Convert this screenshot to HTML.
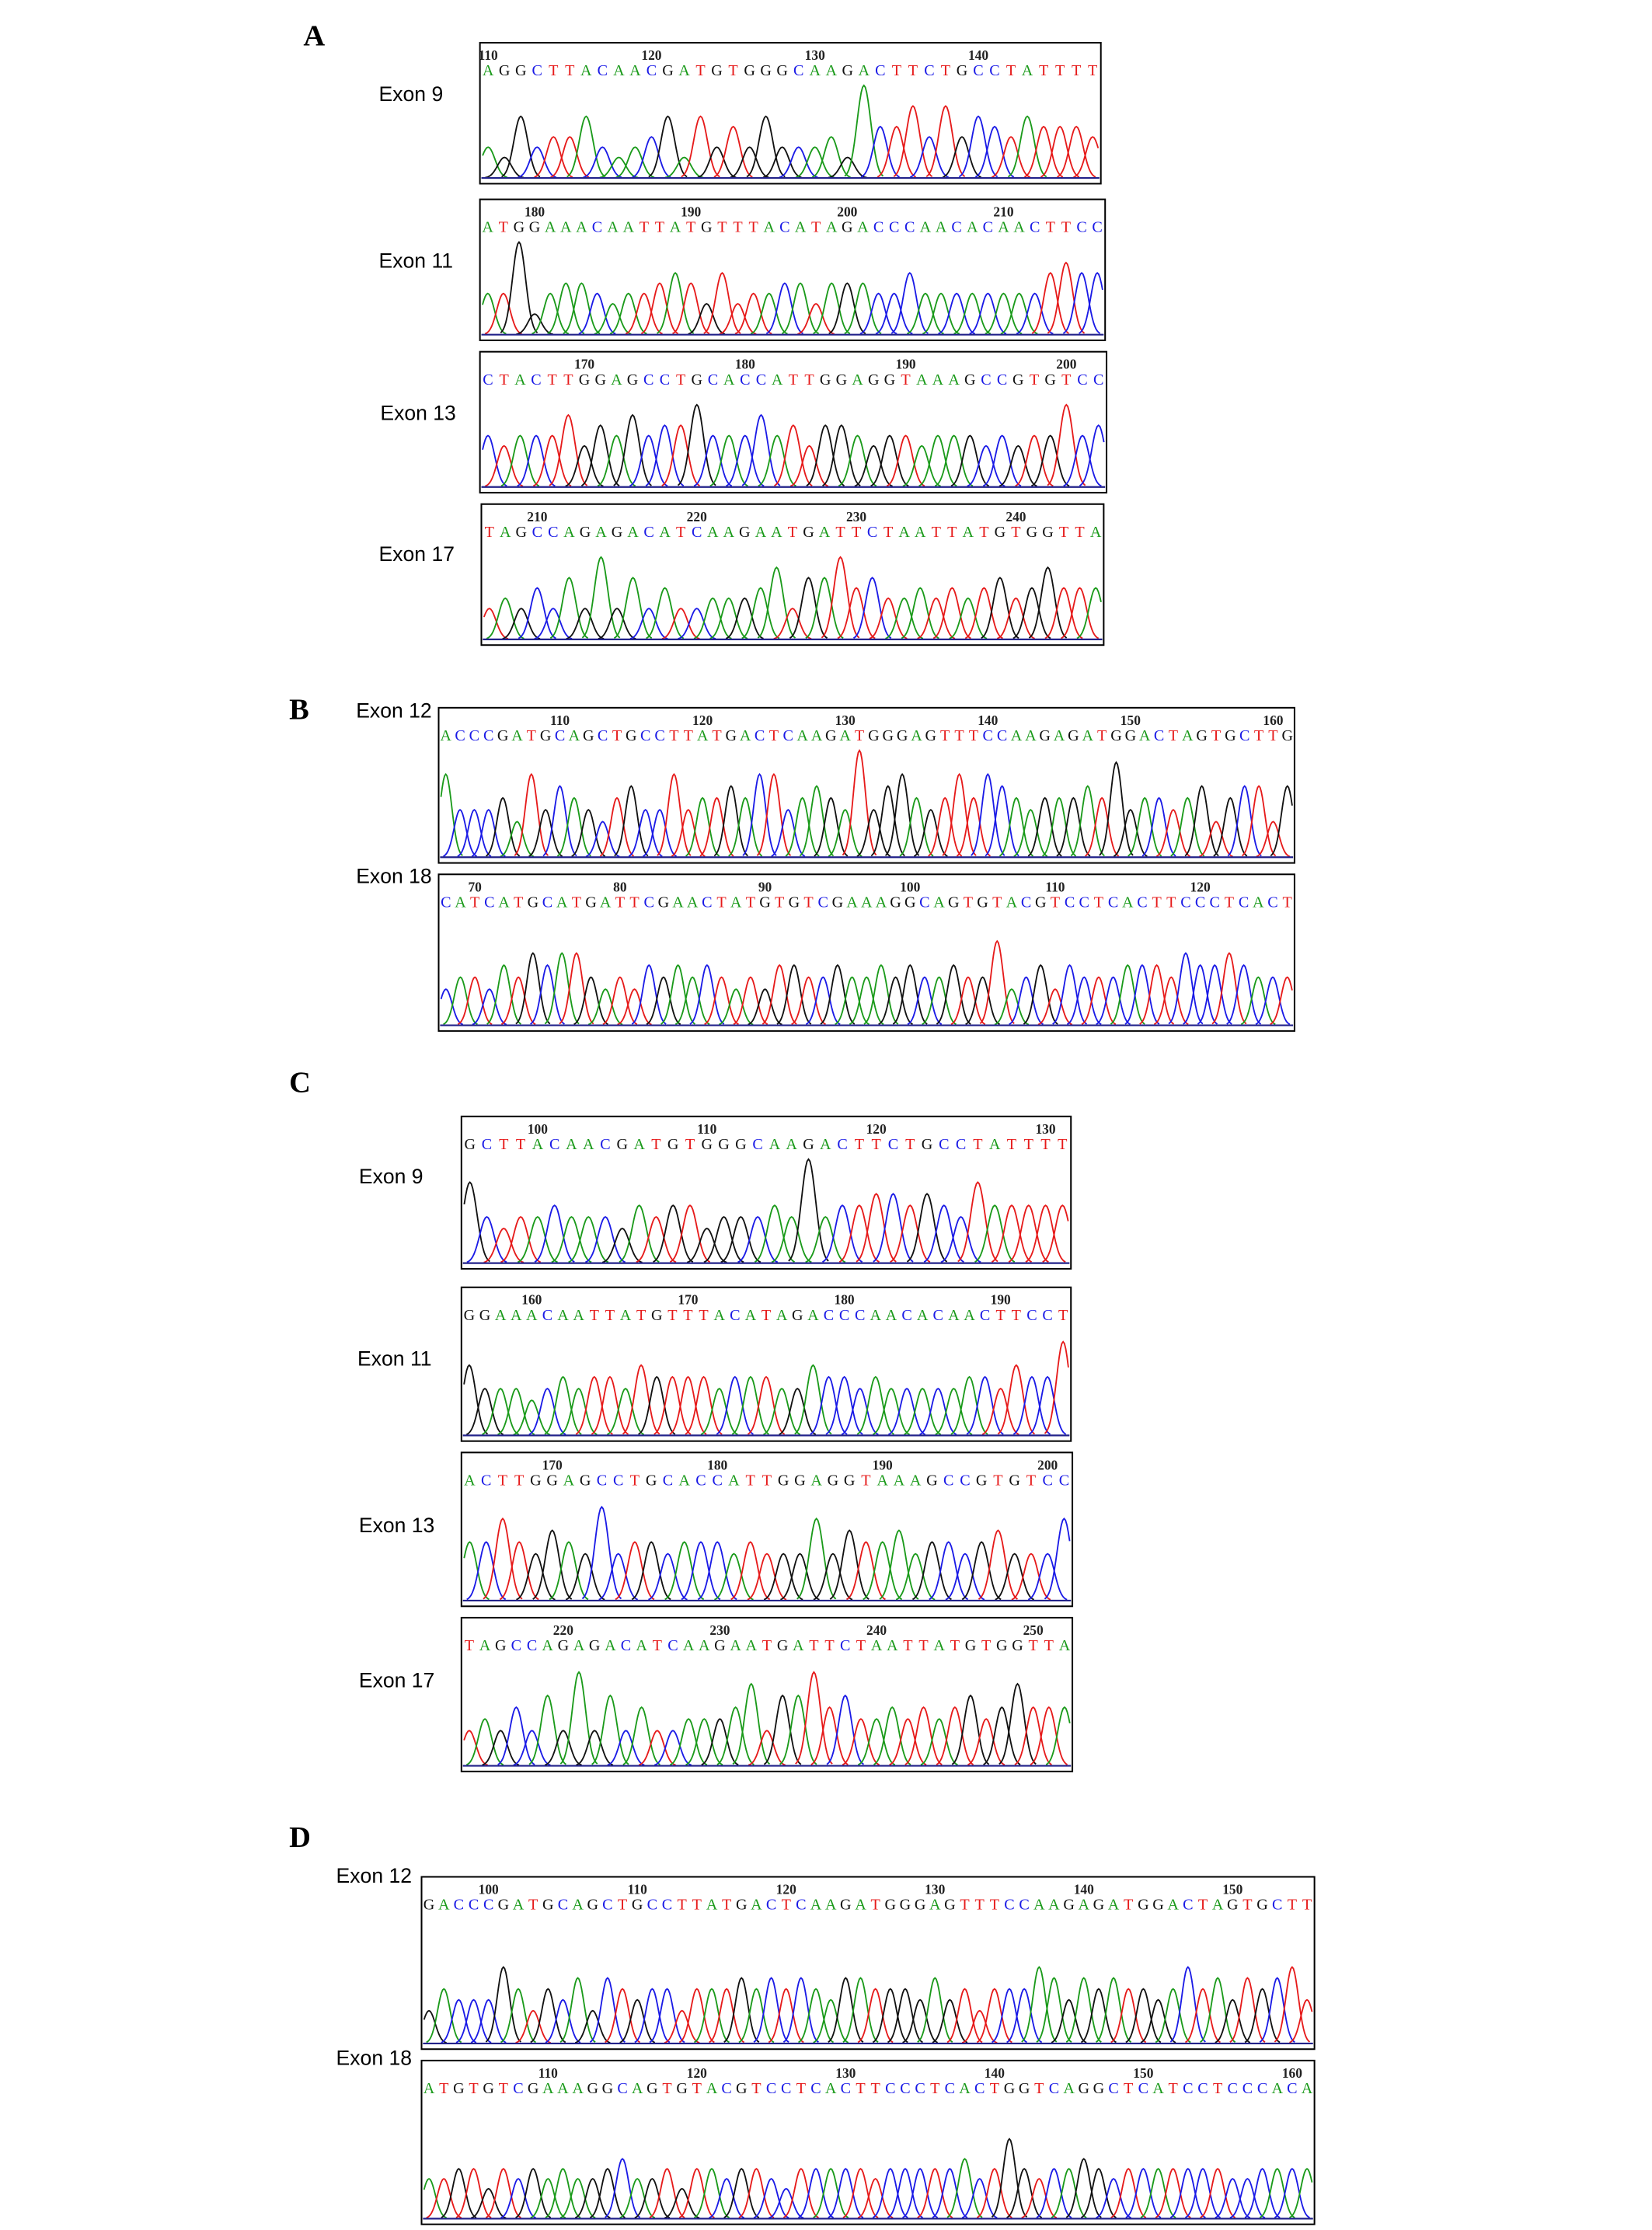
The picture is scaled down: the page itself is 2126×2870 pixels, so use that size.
<!DOCTYPE html>
<html><head><meta charset="utf-8">
<style>
html,body{margin:0;padding:0;background:#fff;}
svg{display:block;}
</style></head>
<body>
<svg id="fig" xmlns="http://www.w3.org/2000/svg" width="2126" height="2870" viewBox="0 0 1160 1566">
<rect x="0" y="0" width="1160" height="1566" fill="#fff"/>
</svg>
<script>
// ---- data ----
const exonNames = ["Exon 9","Exon 11","Exon 13","Exon 17","Exon 12","Exon 18","Exon 9","Exon 11","Exon 13","Exon 17","Exon 12","Exon 18"];
const sequences = [
"AGGCTTACAACGATGTGGGCAAGACTTCTGCCTATTTT",
"ATGGAAACAATTATGTTTACATAGACCCAACACAACTTCC",
"CTACTTGGAGCCTGCACCATTGGAGGTAAAGCCGTGTCC",
"TAGCCAGAGACATCAAGAATGATTCTAATTATGTGGTTA",
"ACCCGATGCAGCTGCCTTATGACTCAAGATGGGAGTTTCCAAGAGATGGACTAGTGCTTG",
"CATCATGCATGATTCGAACTATGTGTCGAAAGGCAGTGTACGTCCTCACTTCCCTCACT",
"GCTTACAACGATGTGGGCAAGACTTCTGCCTATTTT",
"GGAAACAATTATGTTTACATAGACCCAACACAACTTCCT",
"ACTTGGAGCCTGCACCATTGGAGGTAAAGCCGTGTCC",
"TAGCCAGAGACATCAAGAATGATTCTAATTATGTGGTTA",
"GACCCGATGCAGCTGCCTTATGACTCAAGATGGGAGTTTCCAAGAGATGGACTAGTGCTT",
"ATGTGTCGAAAGGCAGTGTACGTCCTCACTTCCCTCACTGGTCAGGCTCATCCTCCCACA"
];
const startNumbers = [110,177,164,207,102,68,96,156,165,214,96,102];
const peakHeights = [
"32634463234626353633342955747465465554",
"4492455434456536344553555446444444446766",
"5455574657566855575646654554555454558566",
"3435363836353344457366856445454564575555",
"7444537465435644745565774565494675457576545556584554563566369",
"3443546566434354545434355445445454454473453544455546556544454",
"7434454443545534445494556656547555555",
"6444345455465555455544655454444455465587",
"5575465484554555454447465564554564447465",
"3435363836353344457366856445454564575555",
"3544475354636545535556565654665554645355576465655457564656747",
"4455354545445644535545543555554555556458545565455555554455"
];
// ---- layout ----
const boxes = [
[337,30,773,129],[337,140,776,239],[337,247,777,346],[338,354,775,453],
[308,497,909,606],[308,614,909,724],
[324,784,752,891],[324,904,752,1012],[324,1020,753,1128],[324,1136,753,1244],
[296,1318,923,1439],[296,1447,923,1562]
];
const labelPos = [[266,71],[266,188],[267,295],[266,394],[250,504],[250,620],[252,831],[251,959],[252,1076],[252,1185],[236,1322],[236,1450]];
const panelLetters = [["A",213,32],["B",203,505],["C",203,767],["D",203,1297]];
const peakTopOffset = [30,30,30,30,30,30,30,30,30,30,48,48];

const colors = {A:"#1a9a1a",C:"#1a1ae6",G:"#111",T:"#e61a1a"};
const NS="http://www.w3.org/2000/svg";
const svg=document.getElementById('fig');
function mk(tag,attrs,parent){const e=document.createElementNS(NS,tag);for(const k in attrs)e.setAttribute(k,attrs[k]);(parent||svg).appendChild(e);return e;}

panelLetters.forEach(p=>{
  const t=mk('text',{x:p[1],y:p[2],'font-family':'"Liberation Serif",serif','font-weight':'bold','font-size':21,fill:'#000'});
  t.textContent=p[0];
  
  
});

sequences.forEach((seq,k)=>{
  const [x0,y0,x1,y1]=boxes[k];
  const g=mk('g',{});
  
  
  const lab=mk('text',{x:labelPos[k][0],y:labelPos[k][1],'font-family':'"Liberation Sans",sans-serif','font-size':14.5,fill:'#000'},g);
  lab.textContent=exonNames[k];
  
  
  const n=seq.length, step=(x1-x0)/n;
  const base=y1-4, top=y0+peakTopOffset[k];
  const xs=i=>x0+(i+0.5)*step;
  const hs=peakHeights[k];
  for(let i=0;i<n;i++){
    const num=startNumbers[k]+i;
    if(num%10===0){
      const t=mk('text',{x:xs(i),y:y0+12,'text-anchor':'middle','font-family':'"Liberation Serif",serif','font-size':9.5,'font-weight':'bold',fill:'#222'},g);
      t.textContent=num;
      
      
    }
    const c=mk('text',{x:xs(i),y:y0+23,'text-anchor':'middle','font-family':'"Liberation Serif",serif','font-size':11,fill:colors[seq[i]]},g);
    c.textContent=seq[i];
    
    
  }
  const sig=step*0.42;
  for(let i=0;i<n;i++){
    const h=parseInt(hs[i]||'5',10)/9*(base-top);
    const cx=xs(i);
    let pts=[];
    for(let d=-2.8;d<=2.81;d+=0.2){
      const x=cx+d*sig; if(x<x0+1||x>x1-1) continue;
      pts.push(x.toFixed(2)+','+(base-h*Math.exp(-d*d/2)).toFixed(2));
    }
    const p=mk('polyline',{points:pts.join(' '),fill:'none',stroke:colors[seq[i]],'stroke-width':1},g);
    
    
  }
  const bl=mk('line',{x1:x0+1,x2:x1-1,y1:base,y2:base,stroke:'#22228a','stroke-width':1.2},g);
  
  
  const r=mk('rect',{x:x0,y:y0,width:x1-x0,height:y1-y0,fill:'none',stroke:'#000','stroke-width':1.1},g);
  
  
});
</script>
</body></html>
